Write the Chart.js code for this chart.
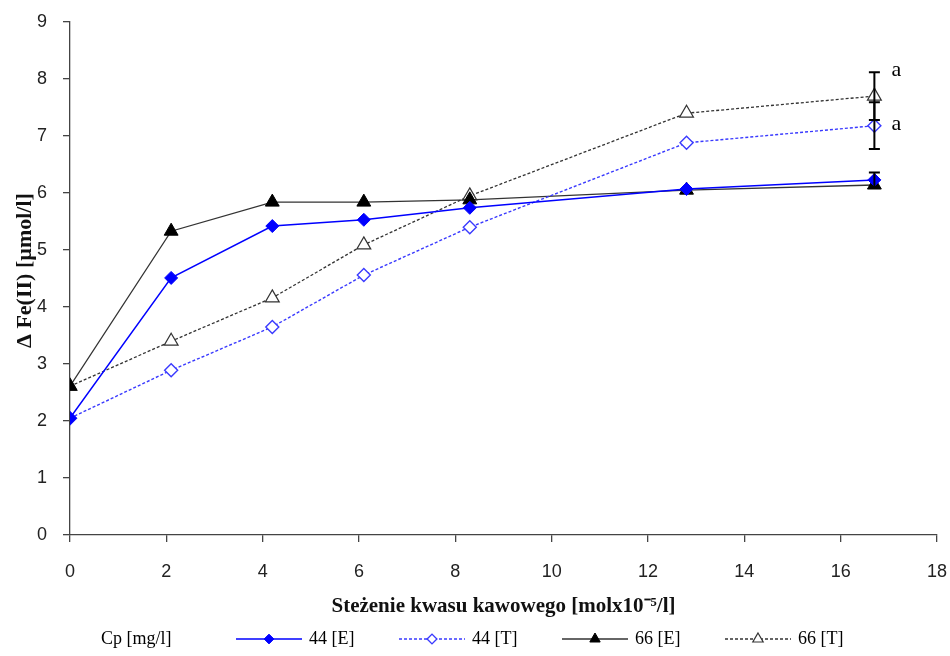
<!DOCTYPE html>
<html lang="pl">
<head>
    <meta charset="UTF-8">
    <title>Fe(II) - kwas kawowy</title>
    <style>
        body { margin: 0; padding: 0; background: #fff; }
        #wrap { width: 950px; height: 656px; position: relative; }
    </style>
</head>
<body>
    <div id="wrap"><canvas id="feChart" width="950" height="656"></canvas></div>
    <script src="https://cdn.jsdelivr.net/npm/chart.js@4/dist/chart.umd.min.js"></script>
    <script>
        // stężenie kwasu kawowego [mol x 10^-5 / l]
        const concentrations = [0, 2.1, 4.2, 6.1, 8.3, 12.8, 16.7];

        // ΔFe(II) [µmol/l]
        const fe44E = [2.05, 4.51, 5.42, 5.53, 5.74, 6.07, 6.23];
        const fe44T = [2.05, 2.89, 3.65, 4.56, 5.40, 6.88, 7.18];
        const fe66E = [2.61, 5.33, 5.84, 5.84, 5.88, 6.05, 6.14];
        const fe66T = [2.61, 3.40, 4.16, 5.09, 5.95, 7.40, 7.70];

        // error bars (± value), only the last point has one
        const err44E = [0, 0, 0, 0, 0, 0, 0.13];
        const err44T = [0, 0, 0, 0, 0, 0, 0.41];
        const err66E = [0, 0, 0, 0, 0, 0, 0];
        const err66T = [0, 0, 0, 0, 0, 0, 0.42];

        const seriesNames = ['44 [E]', '44 [T]', '66 [E]', '66 [T]'];
        const legendTitle = 'Cp [mg/l]';
        const xTitle = 'Steżenie kwasu kawowego [molx10⁻⁵/l]';
        const yTitle = 'Δ Fe(II) [µmol/l]';

        // significance letters
        const noteX = [16.7, 16.7];
        const noteY = [8.12, 7.18];
        const noteText = ['a', 'a'];

        const xTicks = [0, 2, 4, 6, 8, 10, 12, 14, 16, 18];
        const yTicks = [0, 1, 2, 3, 4, 5, 6, 7, 8, 9];

        function toPoints(values) {
            return values.map((v, i) => ({ x: concentrations[i], y: v }));
        }

        const axisColor = '#444';
        const serif = '"Liberation Serif", "Times New Roman", serif';
        const sans = '"Liberation Sans", Arial, sans-serif';

        const datasets = [
            {
                label: seriesNames[0], data: toPoints(fe44E), errors: err44E,
                borderColor: '#0000ff', borderWidth: 1.5,
                pointStyle: 'rectRot', pointRadius: 6.5, pointBorderWidth: 1,
                pointBackgroundColor: '#0000ff', pointBorderColor: '#0000ff'
            },
            {
                label: seriesNames[1], data: toPoints(fe44T), errors: err44T,
                borderColor: '#3a3aff', borderWidth: 1.4, borderDash: [3, 2],
                pointStyle: 'rectRot', pointRadius: 6.5, pointBorderWidth: 1.4,
                pointBackgroundColor: '#ffffff', pointBorderColor: '#3a3aff'
            },
            {
                label: seriesNames[2], data: toPoints(fe66E), errors: err66E,
                borderColor: '#333333', borderWidth: 1.3,
                pointStyle: 'triangle', pointRadius: 8, pointBorderWidth: 1,
                pointBackgroundColor: '#000000', pointBorderColor: '#000000'
            },
            {
                label: seriesNames[3], data: toPoints(fe66T), errors: err66T,
                borderColor: '#333333', borderWidth: 1.3, borderDash: [3, 2],
                pointStyle: 'triangle', pointRadius: 8, pointBorderWidth: 1.2,
                pointBackgroundColor: '#ffffff', pointBorderColor: '#333333'
            }
        ];

        function drawMarker(ctx, ds, x, y, r) {
            ctx.save();
            ctx.setLineDash([]);
            ctx.beginPath();
            if (ds.pointStyle === 'triangle') {
                for (let k = 0; k < 3; k++) {
                    const a = k * 2 * Math.PI / 3;
                    const px = x + Math.sin(a) * r, py = y - Math.cos(a) * r;
                    k === 0 ? ctx.moveTo(px, py) : ctx.lineTo(px, py);
                }
            } else {
                ctx.moveTo(x, y - r);
                ctx.lineTo(x + r, y);
                ctx.lineTo(x, y + r);
                ctx.lineTo(x - r, y);
            }
            ctx.closePath();
            ctx.fillStyle = ds.pointBackgroundColor;
            ctx.fill();
            ctx.lineWidth = ds.pointBorderWidth;
            ctx.strokeStyle = ds.pointBorderColor;
            ctx.stroke();
            ctx.restore();
        }

        const extrasPlugin = {
            id: 'extras',
            afterDatasetsDraw(chart) {
                const ctx = chart.ctx;
                const xs = chart.scales.x, ys = chart.scales.y;

                // error bars
                chart.data.datasets.forEach(ds => {
                    ds.errors.forEach((e, i) => {
                        if (!e) return;
                        const px = xs.getPixelForValue(ds.data[i].x);
                        const top = ys.getPixelForValue(ds.data[i].y + e);
                        const bot = ys.getPixelForValue(ds.data[i].y - e);
                        ctx.save();
                        ctx.strokeStyle = '#000';
                        ctx.lineWidth = 2;
                        ctx.beginPath();
                        ctx.moveTo(px, top); ctx.lineTo(px, bot);
                        ctx.moveTo(px - 5.5, top); ctx.lineTo(px + 5.5, top);
                        ctx.moveTo(px - 5.5, bot); ctx.lineTo(px + 5.5, bot);
                        ctx.stroke();
                        ctx.restore();
                    });
                });

                // letters
                ctx.save();
                ctx.fillStyle = '#000';
                ctx.font = '22px ' + serif;
                ctx.textAlign = 'left';
                ctx.textBaseline = 'middle';
                noteText.forEach((t, i) => {
                    ctx.fillText(t, xs.getPixelForValue(noteX[i]) + 17, ys.getPixelForValue(noteY[i]) - 2);
                });
                ctx.restore();
            },
            afterDraw(chart) {
                const ctx = chart.ctx;
                const ys = chart.scales.y;

                // y axis title (sits a bit above the axis middle in the original)
                ctx.save();
                ctx.translate(25, (ys.top + ys.bottom) / 2 - 8);
                ctx.rotate(-Math.PI / 2);
                ctx.fillStyle = '#111';
                ctx.font = 'bold 22px ' + serif;
                ctx.textAlign = 'center';
                ctx.textBaseline = 'middle';
                ctx.fillText(yTitle, 0, 0);
                ctx.restore();

                // legend: line sample with marker, like the original
                const ly = 639;
                ctx.save();
                ctx.fillStyle = '#000';
                ctx.font = '18px ' + serif;
                ctx.textBaseline = 'middle';
                ctx.textAlign = 'left';
                ctx.fillText(legendTitle, 101, ly);
                chart.data.datasets.forEach((ds, i) => {
                    const x0 = 236 + i * 163;
                    const x1 = x0 + 66;
                    ctx.save();
                    ctx.strokeStyle = ds.borderColor;
                    ctx.lineWidth = ds.borderWidth;
                    ctx.setLineDash(ds.borderDash || []);
                    ctx.beginPath();
                    ctx.moveTo(x0, ly); ctx.lineTo(x1, ly);
                    ctx.stroke();
                    ctx.restore();
                    drawMarker(ctx, ds, (x0 + x1) / 2, ly, ds.pointRadius * 0.75);
                    ctx.fillText(ds.label, x1 + 7, ly);
                });
                ctx.restore();
            }
        };

        new Chart(document.getElementById('feChart'), {
            type: 'line',
            data: { datasets: datasets },
            plugins: [extrasPlugin],
            options: {
                responsive: false,
                animation: false,
                layout: { padding: { left: 0, right: 13, top: 22, bottom: 0 } },
                plugins: { legend: { display: false }, tooltip: { enabled: false } },
                elements: { line: { tension: 0, fill: false } },
                scales: {
                    x: {
                        type: 'linear',
                        min: 0, max: 18,
                        afterBuildTicks: s => { s.ticks = xTicks.map(v => ({ value: v })); },
                        afterFit: s => { s.height = 121; s.paddingLeft = 0; s.paddingRight = 0; },
                        border: { color: axisColor, width: 1.3 },
                        grid: { drawOnChartArea: false, drawTicks: true, tickLength: 7, color: axisColor, lineWidth: 1.3 },
                        ticks: { color: '#222', font: { family: sans, size: 18 }, padding: 19, maxRotation: 0 },
                        title: {
                            display: true,
                            text: xTitle,
                            color: '#111',
                            font: { family: serif, size: 21, weight: 'bold' },
                            padding: { top: 0, bottom: 37 }
                        }
                    },
                    y: {
                        min: 0, max: 9,
                        afterBuildTicks: s => { s.ticks = yTicks.map(v => ({ value: v })); },
                        afterFit: s => { s.width = 70; s.paddingTop = 0; s.paddingBottom = 0; },
                        border: { color: axisColor, width: 1.3 },
                        grid: { drawOnChartArea: false, drawTicks: true, tickLength: 7, color: axisColor, lineWidth: 1.3 },
                        ticks: { color: '#222', font: { family: sans, size: 18 }, padding: 16 },
                        title: { display: false }
                    }
                }
            }
        });
    </script>
</body>
</html>
